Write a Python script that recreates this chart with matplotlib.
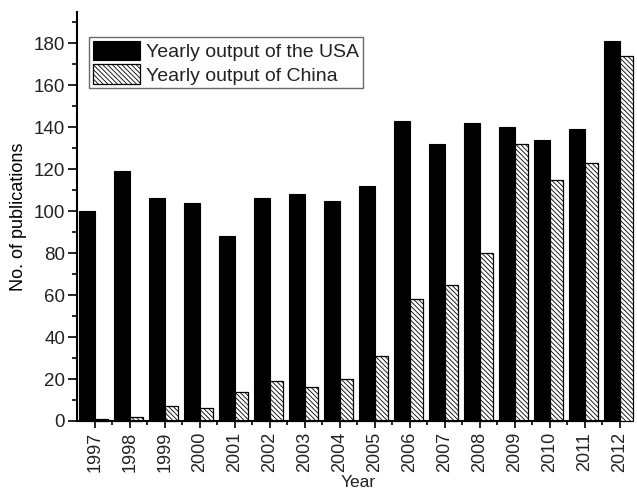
import matplotlib
matplotlib.use("Agg")
import matplotlib.pyplot as plt
import numpy as np
from matplotlib.ticker import MultipleLocator

years = ["1997", "1998", "1999", "2000", "2001", "2002", "2003", "2004",
         "2005", "2006", "2007", "2008", "2009", "2010", "2011", "2012"]
usa = [100, 119, 106, 104, 88, 106, 108, 105, 112, 143, 132, 142, 140, 134, 139, 181]
china = [1, 2, 7, 6, 14, 19, 16, 20, 31, 58, 65, 80, 132, 115, 123, 174]

plt.rcParams["font.family"] = ["Liberation Sans", "DejaVu Sans"]
plt.rcParams["hatch.linewidth"] = 0.6
plt.rcParams["text.color"] = "#222222"

fig = plt.figure(figsize=(6.37, 4.91), dpi=100)
ax = fig.add_axes([0.1209, 0.1426, 0.8524, 0.8336])

x = np.arange(len(years))
ax.bar(x, usa, width=-0.45, align="edge", color="black", edgecolor="black",
       linewidth=0.8, label="Yearly output of the USA", clip_on=False)
ax.bar(x, china, width=0.38, align="edge", color="white", edgecolor="black",
       linewidth=0.9, hatch="\\" * 7, label="Yearly output of China", clip_on=False)

ax.set_xlim(-0.51, 15.0)
ax.set_ylim(0, 195)

ax.set_xticks(x)
ax.set_xticklabels(years, rotation=90, fontsize=13)
ax.set_xticks(x[:-1] + 0.5, minor=True)
ax.yaxis.set_major_locator(MultipleLocator(20))
ax.yaxis.set_minor_locator(MultipleLocator(10))
ax.tick_params(axis="y", which="major", labelsize=13.5, length=6.5, width=1.2, pad=2,
               labelcolor="#222222")
ax.tick_params(axis="y", which="minor", length=3.5, width=1.2)
ax.tick_params(axis="x", which="major", length=5, width=1.2, pad=3, labelcolor="#222222")
ax.tick_params(axis="x", which="minor", length=3, width=1.2)

for side in ("top", "right"):
    ax.spines[side].set_visible(False)
for side in ("left", "bottom"):
    ax.spines[side].set_linewidth(1.5)

ax.set_ylabel("No. of publications", fontsize=13, labelpad=5)
fig.text(358 / 637, 1 - 475 / 491, "Year", fontsize=12.5, ha="center", va="top")

leg = ax.legend(loc="upper left", bbox_to_anchor=(0.022, 0.939), borderaxespad=0,
                fontsize=14, fancybox=False, frameon=True, handlelength=2.4,
                handleheight=1.2, labelspacing=0.15, borderpad=0.2,
                handletextpad=0.35)
leg.get_frame().set_edgecolor("#444444")
leg.get_frame().set_linewidth(1.0)

fig.savefig("out.png", dpi=100)
